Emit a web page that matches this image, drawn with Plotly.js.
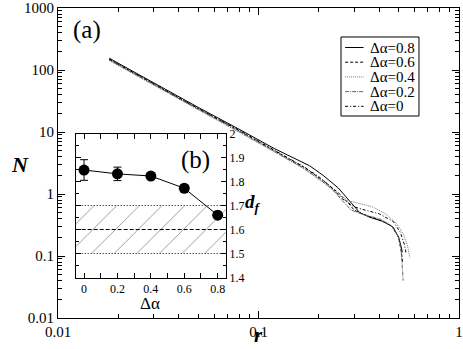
<!DOCTYPE html>
<html>
<head>
<meta charset="utf-8">
<script src="https://cdn.plot.ly/plotly-3.0.1.min.js"></script>
<style>body{margin:0;background:#fff}</style>
</head>
<body>
<div id="chart" style="width:463px;height:349px"></div>
<script>
// main panel (a): N(r) for each delta alpha
const r08 = [0.018, 0.03, 0.05, 0.08, 0.12, 0.18, 0.21, 0.25, 0.29, 0.32, 0.36, 0.42, 0.47, 0.50, 0.515, 0.522];
const n08 = [155, 62, 25, 11.1, 5.4, 2.85, 2.0, 1.25, 0.72, 0.50, 0.42, 0.36, 0.29, 0.20, 0.14, 0.115];
const r06 = [0.018, 0.03, 0.05, 0.08, 0.12, 0.17, 0.21, 0.25, 0.28, 0.30, 0.34, 0.40, 0.46, 0.50, 0.515, 0.525];
const n06 = [148, 59, 23.8, 10.5, 5.0, 2.65, 1.65, 1.05, 0.72, 0.55, 0.46, 0.38, 0.31, 0.20, 0.12, 0.075];
const r04 = [0.018, 0.03, 0.05, 0.08, 0.12, 0.17, 0.21, 0.24, 0.28, 0.32, 0.37, 0.43, 0.49, 0.53, 0.555, 0.568];
const n04 = [142, 57, 23, 10.0, 4.8, 2.5, 1.55, 1.1, 0.78, 0.70, 0.62, 0.48, 0.33, 0.22, 0.14, 0.095];
const r02 = [0.018, 0.03, 0.05, 0.08, 0.12, 0.17, 0.20, 0.23, 0.26, 0.29, 0.33, 0.40, 0.46, 0.50, 0.515, 0.525, 0.527];
const n02 = [146, 58, 23.3, 10.2, 4.85, 2.55, 1.75, 1.25, 0.80, 0.55, 0.47, 0.40, 0.31, 0.20, 0.12, 0.06, 0.04];
const r00 = [0.018, 0.03, 0.05, 0.08, 0.12, 0.17, 0.20, 0.23, 0.26, 0.30, 0.34, 0.40, 0.47, 0.51, 0.535, 0.545];
const n00 = [150, 60, 24, 10.7, 5.1, 2.7, 1.9, 1.3, 0.85, 0.62, 0.55, 0.48, 0.36, 0.24, 0.15, 0.11];
const seriesNames = ['\u0394\u03b1=0.8', '\u0394\u03b1=0.6', '\u0394\u03b1=0.4', '\u0394\u03b1=0.2', '\u0394\u03b1=0'];

// inset (b): fractal dimension vs delta alpha
const dAlpha = [0, 0.2, 0.4, 0.6, 0.8];
const df = [1.848, 1.832, 1.823, 1.772, 1.66];
const dfErr = [0.043, 0.028, 0.008, 0, 0];
const bandLow = 1.5, bandMid = 1.6, bandHigh = 1.7;
const insetXRange = [-0.05, 0.85];

const serif = '"Liberation Serif", "Times New Roman", serif';
const f = (size) => ({family: serif, size: size, color: '#000'});

const lineStyles = [
  {color: '#000', width: 1},
  {color: '#000', width: 1, dash: '3px,2px'},
  {color: '#777', width: 1, dash: '1px,1px'},
  {color: '#666', width: 1, dash: '4px,1px,1px,1px'},
  {color: '#000', width: 1, dash: '3px,2px,1px,2px'}
];

const mainTraces = [[r08, n08], [r06, n06], [r04, n04], [r02, n02], [r00, n00]].map((d, i) => ({
  type: 'scatter', mode: 'lines', xaxis: 'x', yaxis: 'y',
  x: d[0], y: d[1], name: seriesNames[i], line: lineStyles[i], showlegend: false
}));

const insetTraces = [
  {
    x: [insetXRange[0], insetXRange[1], insetXRange[1], insetXRange[0], insetXRange[0]],
    y: [bandLow, bandLow, bandHigh, bandHigh, bandLow],
    fill: 'toself', mode: 'lines', line: {width: 0},
    fillcolor: 'rgba(0,0,0,0)',
    fillpattern: {shape: '/', fgcolor: '#999', bgcolor: 'rgba(255,255,255,0)', size: 16, solidity: 0.06},
    hoverinfo: 'skip'
  },
  {x: insetXRange, y: [bandHigh, bandHigh], mode: 'lines', line: {color: '#000', width: 1, dash: '1px,2px'}},
  {x: insetXRange, y: [bandMid, bandMid], mode: 'lines', line: {color: '#000', width: 1, dash: '4px,2px'}},
  {x: insetXRange, y: [bandLow, bandLow], mode: 'lines', line: {color: '#000', width: 1, dash: '1px,2px'}},
  {
    x: dAlpha, y: df, mode: 'lines+markers',
    line: {color: '#000', width: 1},
    marker: {color: '#000', size: 11},
    error_y: {type: 'data', array: dfErr, color: '#000', thickness: 1, width: 4}
  }
].map(t => Object.assign({type: 'scatter', xaxis: 'x2', yaxis: 'y2', showlegend: false}, t));

const minorLog = (lo, hi) => {
  const v = [];
  for (let e = lo; e < hi; e++) for (let m = 2; m <= 9; m++) v.push(m * Math.pow(10, e));
  return v;
};

const axisBase = {
  showline: true, linecolor: '#000', linewidth: 1, mirror: 'ticks',
  ticks: 'inside', tickcolor: '#000', showgrid: false, zeroline: false
};

// legend box drawn by hand so the rows sit as tightly as in the original
const legX0 = 0.7057, legX1 = 0.9002, legY0 = 0.6516, legY1 = 0.9065;
const legRows = [47.5, 62.2, 76.9, 91.6, 106.3].map(py => (318 - py) / 310);
const shapes = [
  {type: 'rect', xref: 'paper', yref: 'paper', x0: legX0, x1: legX1, y0: legY0, y1: legY1,
   line: {color: '#000', width: 1}, fillcolor: '#fff', layer: 'above'}
];
const legendNotes = [];
legRows.forEach((y, i) => {
  shapes.push({type: 'line', xref: 'paper', yref: 'paper', x0: 0.716, x1: 0.762, y0: y, y1: y,
    line: lineStyles[i], layer: 'above'});
  legendNotes.push({text: seriesNames[i], x: 0.772, y: y, xref: 'paper', yref: 'paper',
    xanchor: 'left', yanchor: 'middle', showarrow: false, font: f(15)});
});

const note = (text, x, y, size, yanchor) => ({text: text, x: x, y: y, xref: 'paper', yref: 'paper',
  xanchor: 'center', yanchor: yanchor || 'middle', showarrow: false, font: f(size)});

const layout = {
  width: 463, height: 349,
  margin: {l: 58, r: 4, t: 8, b: 31},
  paper_bgcolor: '#fff', plot_bgcolor: '#fff',
  font: f(15),
  showlegend: false,
  xaxis: Object.assign({}, axisBase, {
    type: 'log', range: [-2, 0], domain: [0, 1], anchor: 'y',
    tickmode: 'array', tickvals: [0.01, 0.1, 1], ticktext: ['0.01', '0.1', '1'], ticklen: 7,
    minor: {tickmode: 'array', tickvals: minorLog(-2, 0), ticks: 'inside', ticklen: 4, tickcolor: '#000'},
    tickfont: f(15)
  }),
  yaxis: Object.assign({}, axisBase, {
    type: 'log', range: [-2, 3], domain: [0, 1], anchor: 'x',
    tickmode: 'array', tickvals: [0.01, 0.1, 1, 10, 100, 1000],
    ticktext: ['0.01', '0.1', '1', '10', '100', '1000'], ticklen: 7,
    minor: {tickmode: 'array', tickvals: minorLog(-2, 3), ticks: 'inside', ticklen: 4, tickcolor: '#000'},
    tickfont: f(15)
  }),
  xaxis2: Object.assign({}, axisBase, {
    domain: [0.0441, 0.419], anchor: 'y2', range: insetXRange,
    tickmode: 'array', tickvals: dAlpha, ticklen: 5,
    minor: {dtick: 0.1, ticks: 'inside', ticklen: 5, tickcolor: '#000'},
    tickfont: f(12)
  }),
  yaxis2: Object.assign({}, axisBase, {
    domain: [0.1306, 0.595], anchor: 'x2', side: 'right', range: [1.4, 2.0],
    dtick: 0.1, tick0: 1.4, ticklen: 5,
    minor: {dtick: 0.05, ticks: 'inside', ticklen: 3, tickcolor: '#000'},
    tickfont: f(12)
  }),
  shapes: shapes,
  annotations: [
    note('<b><i>N</i></b>', -0.095, 0.494, 22),
    note('<b><i>r</i></b>', 0.499, -0.1, 21, 'bottom'),
    note('(a)', 0.072, 0.929, 25),
    note('(b)', 0.344, 0.51, 25),
    note('<b><i>d</i></b><sub><b><i>f</i></b></sub>', 0.487, 0.37, 19),
    note('\u0394\u03b1', 0.229, 0.048, 17)
  ].concat(legendNotes)
};

Plotly.newPlot('chart', mainTraces.concat(insetTraces), layout, {displayModeBar: false, staticPlot: true});
</script>
</body>
</html>
